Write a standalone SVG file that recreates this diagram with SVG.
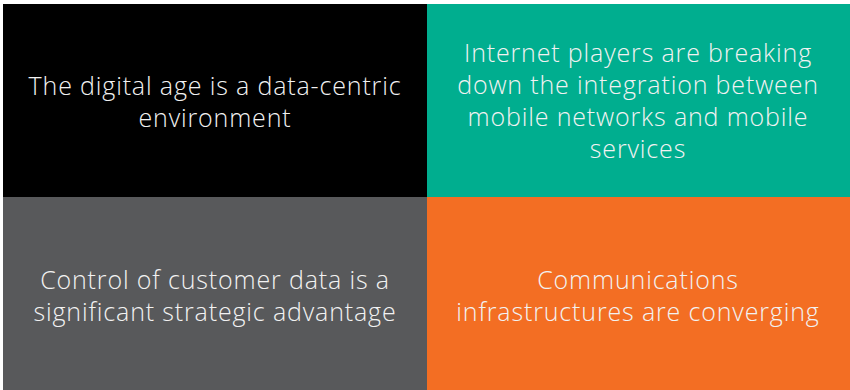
<svg xmlns="http://www.w3.org/2000/svg" width="850" height="390" viewBox="0 0 850 390">
<style>
.t{font-family:"Open Sans","Liberation Sans",sans-serif;font-weight:300;font-size:25px;fill:#f2f2f2;text-anchor:middle;letter-spacing:0.85px}
</style>
<rect width="850" height="390" fill="#ffffff"/>
<g id="q1"><rect x="3" y="4" width="424" height="193" fill="#000000"/>
<text class="t" x="215" y="95">The digital age is a data-centric</text>
<text class="t" x="215" y="127">environment</text></g>
<g id="q2"><rect x="427" y="4" width="423" height="193" fill="#00ae8f"/>
<text class="t" x="638" y="62">Internet players are breaking</text>
<text class="t" x="638" y="94">down the integration between</text>
<text class="t" x="638" y="126">mobile networks and mobile</text>
<text class="t" x="638" y="158">services</text></g>
<g id="q3"><rect x="3" y="197" width="424" height="193" fill="#58595b"/>
<text class="t" x="215" y="289">Control of customer data is a</text>
<text class="t" x="215" y="321">significant strategic advantage</text></g>
<g id="q4"><rect x="427" y="197" width="423" height="193" fill="#f36e23"/>
<text class="t" x="638" y="289">Communications</text>
<text class="t" x="638" y="321">infrastructures are converging</text></g>
<g id="connectors"/>
</svg>
